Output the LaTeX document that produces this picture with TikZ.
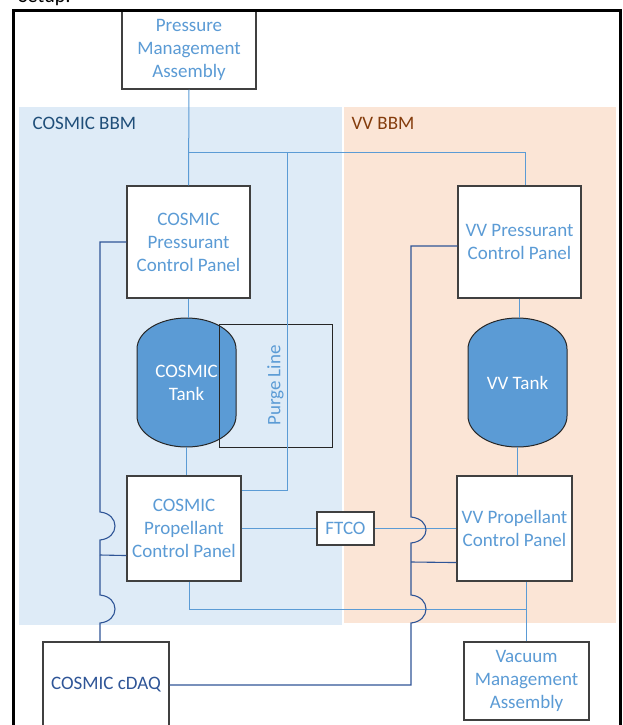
\documentclass[tikz,border=0pt]{standalone}
\usepackage{fontspec}
\setmainfont{Carlito}
\usetikzlibrary{calc}
\definecolor{lineblue}{HTML}{5B9BD5}
\definecolor{darkline}{HTML}{2F5597}
\definecolor{cosmicbg}{HTML}{DEEBF7}
\definecolor{vvbg}{HTML}{FBE5D6}
\definecolor{cosmiclbl}{HTML}{1F4E79}
\definecolor{vvlbl}{HTML}{843C0C}
\definecolor{tankblue}{HTML}{5B9BD5}

\begin{document}
\begin{tikzpicture}[x=1pt,y=-1pt,font=\fontsize{19}{23}\selectfont,
  panel/.style={draw=black!75,line width=1.1pt,fill=white,text=lineblue,align=center,inner sep=0pt},
  tankbody/.style={draw=black!85,line width=1pt,fill=tankblue},
  lline/.style={lineblue,line width=1pt},
  dline/.style={darkline,line width=1.1pt}]
  \useasboundingbox (0,0) rectangle (622,725);
  \node[anchor=base west,font=\fontsize{20}{24}\selectfont] (setup) at (15,3) {Setup:};
  % test stands
  \fill[cosmicbg] (19,107) rectangle (342,625);
  \fill[vvbg] (344,107) rectangle (616,623);
  \node[anchor=west,text=cosmiclbl] (cosmicbbm) at (29,123) {COSMIC BBM};
  \node[anchor=west,text=vvlbl] (vvbbm) at (348,123) {VV BBM};
  % panels
  \node[panel,minimum width=134pt,minimum height=78pt] (pma) at (189,50) {Pressure\\Management\\Assembly};
  \node[panel,minimum width=123pt,minimum height=112pt] (cpcp) at (188.5,242) {COSMIC\\Pressurant\\Control Panel};
  \node[panel,minimum width=123pt,minimum height=112pt] (vpcp) at (519.5,242) {VV Pressurant\\Control Panel};
  \node[panel,minimum width=114pt,minimum height=105pt] (cppc) at (184,528.5) {COSMIC\\Propellant\\Control Panel};
  \node[panel,minimum width=115pt,minimum height=105pt] (vppc) at (514.5,528.5) {VV Propellant\\Control Panel};
  \node[panel,minimum width=57pt,minimum height=33pt] (ftco) at (345.5,528.5) {FTCO};
  \node[panel,minimum width=125pt,minimum height=78pt] (vma) at (526.5,681) {Vacuum\\Management\\Assembly};
  \node[panel,text=darkline,minimum width=126pt,minimum height=86pt] (cdaq) at (106,685) {COSMIC cDAQ};
  % tanks
  \foreach \n/\cx/\txt in {ctank/186.5/{COSMIC\\Tank},vtank/517.5/{VV Tank}}{
    \draw[tankbody] (\cx-49.5,349) .. controls (\cx-49.5,331.9) and (\cx-27.3,318) .. (\cx,318) .. controls (\cx+27.3,318) and (\cx+49.5,331.9) .. (\cx+49.5,349) -- (\cx+49.5,416) .. controls (\cx+49.5,433.1) and (\cx+27.3,447) .. (\cx,447) .. controls (\cx-27.3,447) and (\cx-49.5,433.1) .. (\cx-49.5,416) -- cycle;
    \node[text=white,align=center,inner sep=0pt,minimum width=99pt,minimum height=129pt] (\n) at (\cx,382.5) {\txt};}
  \node[draw=black!85,line width=1pt,text=lineblue,rotate=90,inner sep=0pt,minimum width=123pt,minimum height=113pt] (purge) at (275.5,385.5) {Purge Line};
  % pressurant feed
  \coordinate (hub) at (188.5,152);
  \coordinate (purgetop) at (287,152);
  \draw[lline] (pma.south) -- (cpcp.north);
  \draw[lline] (hub) -| ($(vpcp.north)+(6,0)$);
  \draw[lline] (purgetop) |- ($(cppc.north east)+(0,15)$);
  \draw[lline] (cpcp.south) -- (cpcp.south |- ctank.north);
  \draw[lline] (ctank.south) -- (ctank.south |- cppc.north);
  \draw[lline] (vpcp.south) -- (vpcp.south |- vtank.north);
  \draw[lline] (vtank.south) -- (vtank.south |- vppc.north);
  % propellant and vacuum
  \draw[lline] (cppc.east) -- (ftco.west);
  \draw[lline] (ftco.east) -- (vppc.west);
  \coordinate (bus) at (526.5,609);
  \draw[lline] ($(cppc.south)+(5,0)$) |- (bus);
  \draw[lline] (vma.north) -- (vma.north |- vppc.south);
  % data lines
  \draw[dline] ($(cdaq.north)+(-6,0)$) -- (100,623) .. controls (120,621) and (120,597) .. (100,595) -- (100,540) .. controls (120,538) and (120,514) .. (100,512) |- (cpcp.west);
  \draw[dline] ($(cppc.south west)+(0,-26)$) -- (100,555);
  \draw[dline] (cdaq.east) -- (411,685) -- (411,623) .. controls (431,621) and (431,597) .. (411,595) -- (411,543) .. controls (431,541) and (431,519) .. (411,517) |- ($(vpcp.west)+(0,4)$);
  \draw[dline] ($(vppc.south west)+(0,-19)$) -- (411,562);
  \draw[line width=3pt] (13,11) rectangle (620,760);
\end{tikzpicture}
\end{document}
